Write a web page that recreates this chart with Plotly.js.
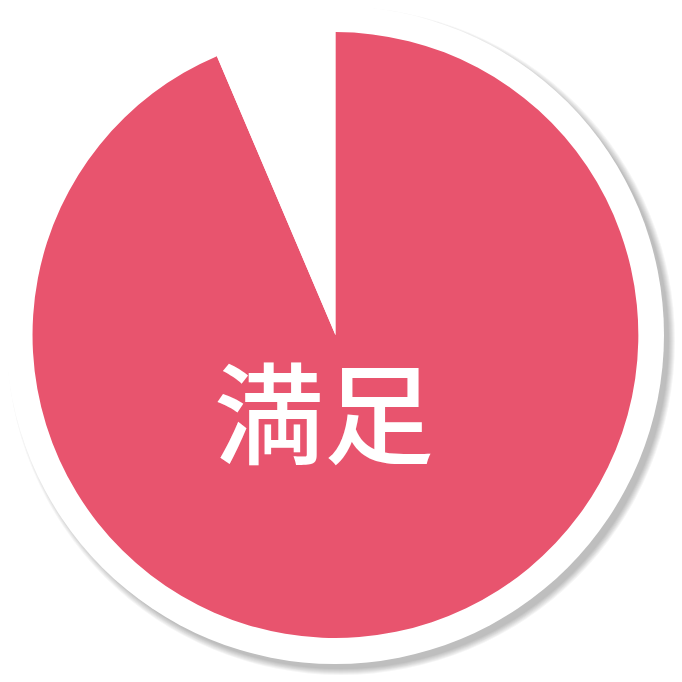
<!DOCTYPE html>
<html>
<head>
<meta charset="utf-8">
<script src="https://cdn.plot.ly/plotly-3.0.1.min.js"></script>
<style>
  html, body { margin: 0; padding: 0; background: #fff; }
  #chart { width: 682px; height: 682px; }
</style>
</head>
<body>
<div id="chart"></div>
<script>
// slice data
const labels = ["満足", "その他"];
const values = [93.6, 6.4];
const colors = ["#E8546E", "#FFFFFF"];

const W = 682;

// pixel circle -> paper-coordinate shape
function circle(cx, cy, r, fill) {
  return {
    type: "circle",
    xref: "paper",
    yref: "paper",
    x0: (cx - r) / W,
    x1: (cx + r) / W,
    y0: 1 - (cy + r) / W,
    y1: 1 - (cy - r) / W,
    fillcolor: fill,
    line: { width: 0 },
    layer: "below",
  };
}

// soft drop shadow behind the white disc
const shapes = [];
for (let k = 7; k >= 1; k--) {
  shapes.push(circle(341, 341, 327 + k, "rgba(0,0,0,0.04)"));
}
shapes.push(circle(335, 335, 329, "#FFFFFF"));

Plotly.newPlot(
  "chart",
  [
    {
      type: "pie",
      labels,
      values,
      marker: { colors, line: { width: 0 } },
      sort: false,
      direction: "clockwise",
      rotation: 0,
      textinfo: "none",
      hoverinfo: "label+percent",
      showlegend: false,
      domain: { x: [0.0477, 0.936], y: [0.0645, 0.953] },
    },
  ],
  {
    width: W,
    height: W,
    margin: { l: 0, r: 0, t: 0, b: 0 },
    paper_bgcolor: "#FFFFFF",
    plot_bgcolor: "#FFFFFF",
    shapes,
    annotations: [
      {
        text: labels[0],
        xref: "paper",
        yref: "paper",
        x: 324 / W,
        y: 1 - 408 / W,
        xanchor: "center",
        yanchor: "middle",
        showarrow: false,
        font: { family: "Noto Sans CJK JP", size: 110, weight: 500, color: "#FFFFFF" },
      },
    ],
  },
  { displayModeBar: false, staticPlot: true }
);
</script>
</body>
</html>
